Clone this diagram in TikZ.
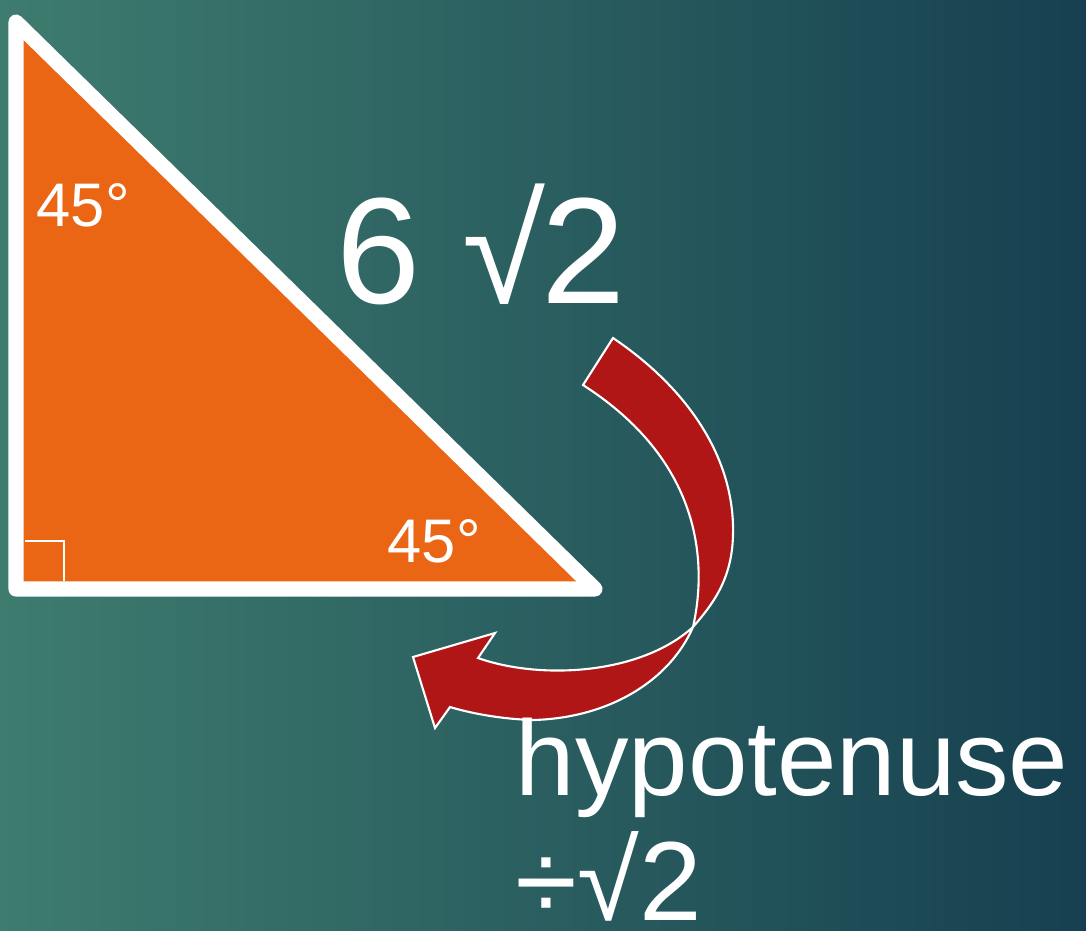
\documentclass[tikz,border=0pt]{standalone}
\usepackage{fontspec}
\setmainfont{Liberation Sans}
\definecolor{BgLight}{RGB}{62,124,111}
\definecolor{BgDark}{RGB}{22,64,80}
\definecolor{TriOrange}{RGB}{234,101,20}
\definecolor{ArrowRed}{RGB}{176,22,22}
\tikzset{
  angleLabel/.style={text=white,font=\fontsize{17.5}{21}\selectfont,inner sep=0pt,anchor=base west},
  sideLabel/.style={text=white,font=\fontsize{43}{50}\selectfont,inner sep=0pt,anchor=base west},
  ruleLabel/.style={text=white,font=\fontsize{30.4}{36}\selectfont,inner sep=0pt,anchor=base west},
  ruleBig/.style={ruleLabel,font=\fontsize{32}{38}\selectfont},
  triEdge/.style={draw=white,line width=4.3pt,line join=round,line cap=round},
  curvedArrow/.style={fill=ArrowRed,draw=white,line width=0.6pt,line join=miter}
}

\begin{document}
\begin{tikzpicture}[x=0.01cm,y=-0.01cm]
  \useasboundingbox (0,0) rectangle (1086,930);
  \clip (0,0) rectangle (1086,930);
  \shade[left color=BgLight,right color=BgDark] (0,0) rectangle (1086,930);
  % triangle
  \coordinate (A) at (16,22);
  \coordinate (B) at (16,589);
  \coordinate (C) at (595,589);
  \filldraw[fill=TriOrange,triEdge] (A) -- (B) -- (C) -- cycle;
  \draw[white,line width=0.6pt] (25,541) -| (64,581);
  \node[angleLabel] (topAngle) at (36,226) {45°};
  \node[angleLabel] (baseAngle) at (387,562) {45°};
  \node[sideLabel] (hypLen) at (336,303) {6 √\kern-0.03em 2};
  % curved arrow
  \draw[curvedArrow] (613,338) .. controls (690,390) and (735,460) .. (733,535)
    .. controls (732,580) and (712,605) .. (693,627)
    .. controls (670,680) and (610,718) .. (533,720)
    .. controls (500,719) and (470,713) .. (450,707)
    -- (435,728) -- (413,657) -- (495,633) -- (478,658)
    .. controls (540,680) and (640,675) .. (693,627)
    .. controls (708,560) and (700,460) .. (583,385) -- cycle;
  \node[ruleLabel] (ruleTop) at (515,795) {hypotenuse};
  \node[ruleBig] (ruleBot) at (515,920) {÷√2};
\end{tikzpicture}
\end{document}
